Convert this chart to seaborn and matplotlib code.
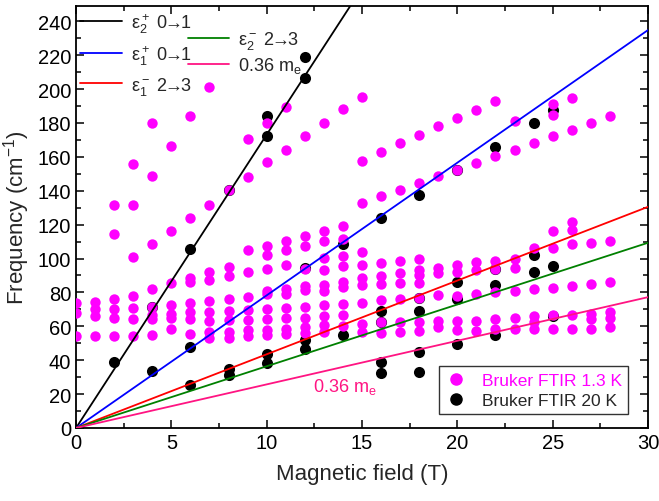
import numpy as np
import pandas as pd
import matplotlib
matplotlib.use("Agg")
import matplotlib.pyplot as plt
from matplotlib.lines import Line2D
from matplotlib.ticker import MultipleLocator
import seaborn as sns

# ---- measured resonances, Bruker FTIR at 1.3 K (field in T, frequency in cm^-1)
fields_13K = list(range(0, 29))
freqs_13K = [
    [73.7, 67.8, 54.0],
    [74.1, 70.1, 65.8, 54.0],
    [131.5, 114.2, 76.4, 70.1, 65.2, 54.4],
    [155.5, 131.3, 100.8, 77.6, 70.7, 64.6, 54.4],
    [179.9, 148.6, 108.5, 81.9, 71.5, 66.8, 64.2, 54.8],
    [166.3, 116.2, 85.3, 72.5, 67.4, 64.8, 58.3],
    [183.8, 123.9, 88.8, 85.9, 73.5, 68.2, 64.6, 55.4],
    [201.5, 131.7, 91.8, 87.5, 74.8, 68.2, 63.4, 56.4, 53.3],
    [140.4, 94.8, 89.6, 76.0, 68.8, 63.8, 56.9, 53.2],
    [170.3, 148.2, 104.8, 92.0, 77.5, 69.5, 64.0, 57.7, 54.0],
    [179.9, 156.7, 107.5, 102.0, 94.0, 81.0, 79.0, 70.1, 64.4, 58.0, 55.0],
    [189.7, 164.2, 110.5, 104.8, 96.4, 82.0, 79.0, 70.6, 64.7, 58.4, 55.2],
    [172.0, 113.1, 107.3, 94.1, 84.0, 81.2, 71.6, 64.8, 59.4, 56.0],
    [179.9, 116.2, 110.5, 100.2, 93.5, 84.4, 80.7, 72.5, 66.3, 60.6, 56.9],
    [188.1, 119.2, 111.6, 101.6, 95.5, 86.4, 83.2, 72.9, 66.4, 60.3],
    [195.6, 157.7, 132.7, 103.8, 96.2, 88.3, 84.1, 73.9, 61.4, 56.6],
    [163.0, 136.7, 97.5, 89.8, 84.7, 75.5, 62.3, 56.1],
    [167.9, 140.6, 98.6, 91.5, 85.7, 76.0, 62.4, 56.4],
    [172.8, 144.5, 99.8, 93.2, 90.3, 85.6, 76.5, 62.4, 57.4],
    [177.9, 148.4, 94.5, 91.3, 78.4, 63.1, 59.7],
    [182.8, 152.4, 96.1, 92.1, 78.0, 63.3, 58.0],
    [187.9, 156.3, 97.7, 93.3, 79.0, 63.3, 57.4],
    [192.7, 160.2, 98.6, 93.7, 80.0, 64.6, 58.4],
    [180.9, 164.2, 100.0, 94.7, 81.0, 65.2, 58.4],
    [168.1, 106.5, 81.9, 65.8, 62.7, 58.7],
    [191.1, 184.8, 172.0, 116.5, 106.5, 82.9, 66.6, 58.7],
    [194.8, 175.8, 121.3, 117.0, 108.5, 83.9, 66.6, 58.7],
    [179.9, 109.1, 84.9, 67.2, 64.2, 58.7],
    [183.8, 110.5, 85.9, 68.2, 65.2, 59.3],
]

# ---- measured resonances, Bruker FTIR at 20 K
fields_20K = [2, 4, 6, 8, 10, 12, 14, 16, 18, 20, 22, 24, 25]
freqs_20K = [
    [39.0],
    [71.5, 33.5],
    [105.5, 48.0, 25.5],
    [140.5, 35.0, 31.5],
    [184.0, 172.5, 43.5, 38.5],
    [219.0, 206.5, 94.4, 51.7, 46.6],
    [108.5, 55.0],
    [124.0, 69.0, 62.3, 38.7, 32.5],
    [137.6, 77.0, 69.2, 45.0, 33.2],
    [152.4, 85.9, 76.4, 49.5],
    [165.9, 93.7, 84.5, 54.8],
    [180.0, 102.0, 92.1],
    [187.7, 95.3, 65.8],
]

# ---- calculated transition lines: energy at 0 T and at 30 T
ARROW = r"$\!\!\rightarrow\!\!$"
line_labels = ["ε$_2^+$ 0" + ARROW + "1",
               "ε$_1^+$ 0" + ARROW + "1",
               "ε$_1^-$ 2" + ARROW + "3",
               "ε$_2^-$ 2" + ARROW + "3",
               "0.36 m$_\\mathrm{e}$"]
line_colors = ["#000000", "#0000FF", "#FF0000", "#008000", "#FF1482"]
line_field = [0, 30]
line_freq_30T = [519.3, 234.8, 130.5, 109.3, 77.2]

x_ticks = [0, 5, 10, 15, 20, 25, 30]
y_ticks = list(range(0, 241, 20))

MAGENTA = "#FF00FF"

df13 = pd.DataFrame([(b, f) for b, fs in zip(fields_13K, freqs_13K) for f in fs],
                    columns=["field", "freq"])
df20 = pd.DataFrame([(b, f) for b, fs in zip(fields_20K, freqs_20K) for f in fs],
                    columns=["field", "freq"])
lines = pd.DataFrame(
    [(lab, b, fend * b / line_field[-1])
     for lab, fend in zip(line_labels, line_freq_30T) for b in line_field],
    columns=["label", "field", "freq"])

sns.set_theme(style="ticks")
plt.rcParams["font.family"] = ["Liberation Sans", "DejaVu Sans"]
plt.rcParams["mathtext.fontset"] = "custom"
plt.rcParams["mathtext.rm"] = "Liberation Sans"
plt.rcParams["mathtext.it"] = "Liberation Sans:italic"
plt.rcParams["mathtext.default"] = "regular"

fig = plt.figure(figsize=(6.59, 5.02), dpi=100)
ax = fig.add_axes([76 / 659, 73 / 502, 572 / 659, 422 / 502])

sns.scatterplot(data=df20, x="field", y="freq", ax=ax, color="black",
                s=64, linewidth=0, zorder=2, legend=False)
sns.scatterplot(data=df13, x="field", y="freq", ax=ax, color=MAGENTA,
                s=56, linewidth=0, zorder=3, legend=False)
sns.lineplot(data=lines, x="field", y="freq", hue="label",
             hue_order=line_labels, palette=line_colors, ax=ax,
             linewidth=1.3, zorder=4, legend=False, sort=False, estimator=None)

ax.set_xlim(0, 30)
ax.set_ylim(0, 249)
ax.set_xticks(x_ticks)
ax.set_yticks(y_ticks)
ax.xaxis.set_minor_locator(MultipleLocator(2.5))
ax.yaxis.set_minor_locator(MultipleLocator(10))
ax.tick_params(which="both", direction="in", top=True, right=True,
               width=1.1, colors="black", labelsize=14.5)
ax.tick_params(which="major", length=6)
ax.tick_params(which="minor", length=3.5)
for sp in ax.spines.values():
    sp.set_linewidth(1.3)
    sp.set_color("black")
ax.set_xlabel("Magnetic field (T)", fontsize=16, labelpad=8)
ax.set_ylabel("Frequency (cm$^{-1}$)", fontsize=16, labelpad=4)

ax.text(12.43, 25, "0.36 m$_\\mathrm{e}$", color=line_colors[4], fontsize=13,
        ha="left", va="center")

# calculated-line legends, two columns
h1 = [Line2D([], [], color=c, lw=1.3) for c in line_colors[:3]]
leg1 = ax.legend(h1, line_labels[:3], loc="upper left",
                 bbox_to_anchor=(-0.005, 1.005), frameon=False, fontsize=13,
                 handlelength=2.3, handletextpad=0.5, labelspacing=0.45,
                 borderaxespad=0)
ax.add_artist(leg1)
h2 = [Line2D([], [], color=c, lw=1.3) for c in line_colors[3:]]
leg2 = ax.legend(h2, line_labels[3:], loc="upper left",
                 bbox_to_anchor=(0.183, 0.962), frameon=False, fontsize=13,
                 handlelength=2.3, handletextpad=0.5, labelspacing=0.2,
                 borderaxespad=0)
ax.add_artist(leg2)

# measurement legend
hm = [Line2D([], [], marker="o", ls="", color=MAGENTA, markersize=8),
      Line2D([], [], marker="o", ls="", color="black", markersize=8)]
leg3 = ax.legend(hm, ["Bruker FTIR 1.3 K", "Bruker FTIR 20 K"],
                 loc="lower right", bbox_to_anchor=(0.965, 0.033),
                 frameon=True, fancybox=False, fontsize=12.5,
                 handlelength=1.2, handletextpad=0.9, labelspacing=0.3,
                 borderpad=0.35, borderaxespad=0)
leg3.get_frame().set_edgecolor("black")
leg3.get_frame().set_linewidth(1.0)
leg3.get_texts()[0].set_color(MAGENTA)

fig.savefig("out.png", dpi=100)
